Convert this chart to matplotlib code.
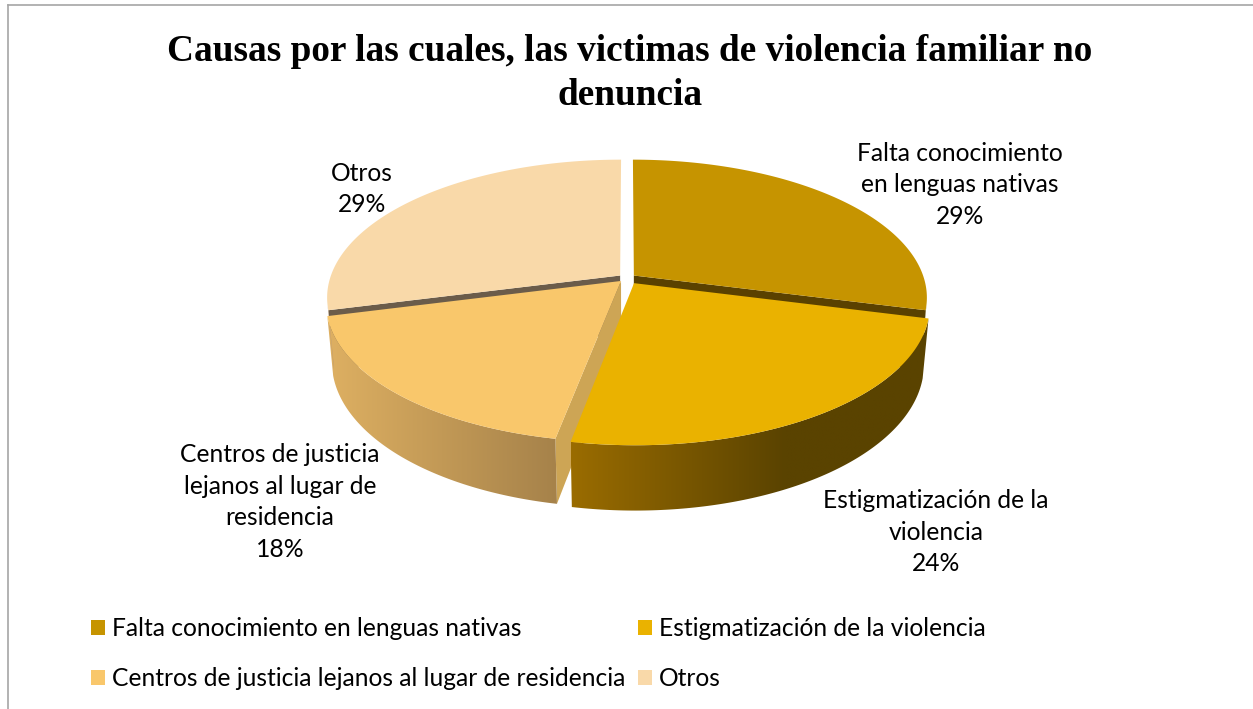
import numpy as np
import matplotlib
matplotlib.use('Agg')
import matplotlib.pyplot as plt
from matplotlib.patches import Polygon, Patch
from matplotlib.lines import Line2D
from matplotlib.colors import to_rgb

# data
categories = ['Falta conocimiento en lenguas nativas',
              'Estigmatización de la violencia',
              'Centros de justicia lejanos al lugar de residencia',
              'Otros']
slice_labels = ['Falta conocimiento\nen lenguas nativas',
                'Estigmatización de la\nviolencia',
                'Centros de justicia\nlejanos al lugar de\nresidencia',
                'Otros']
values = [29, 24, 18, 29]
title = 'Causas por las cuales, las victimas de violencia familiar no\ndenuncia'

# styles
top_colors = ['#C69400', '#EAB200', '#F9C76B', '#F9D9A9']
wall_left = ['#6E5000', '#9A6C00', '#DEB062', '#C8A882']
wall_right = ['#5C4400', '#5A4300', '#A6824A', '#B09070']
side_colors = ['#5A4100', '#8A6400', '#CDA555', '#6B5C4A']
explode = [0.03, 0.045, 0.03, 0.03]
label_pos = [(960, 185), (936, 532), (280, 502), (362, 189)]

# fake 3d camera
CX, CY = 627, 278
F, D = 1633, 5.63
TILT = np.radians(27.7)
C, S = np.cos(TILT), np.sin(TILT)
H = 0.23
cam = np.array([0.0, -D * C, D * S])


def proj(u, v, h):
    depth = D + v * C - h * S
    return CX + F * u / depth, CY - F * (v * S + h * C) / depth


fig = plt.figure(figsize=(12.53, 7.09), dpi=100)
ax = fig.add_axes([0, 0, 1, 1])

fracs = np.array(values) / sum(values)
ends = 90 - 360 * np.cumsum(fracs)
starts = ends + 360 * fracs
lim = np.degrees(np.arcsin(1 / (D * C)))

faces = []
for i in range(len(values)):
    a0, a1 = ends[i], starts[i]
    mid = np.radians((a0 + a1) / 2)
    ex, ey = explode[i] * np.cos(mid), explode[i] * np.sin(mid)

    # radial cut faces, collected and drawn back to front later
    for a, na in ((a0, a0 - 90), (a1, a1 + 90)):
        ar, nr = np.radians(a), np.radians(na)
        p = np.array([ex + 0.5 * np.cos(ar), ey + 0.5 * np.sin(ar), -H / 2])
        n = np.array([np.cos(nr), np.sin(nr), 0])
        if np.dot(n, cam - p) < 0.1:
            continue
        us = [ex, ex + np.cos(ar), ex + np.cos(ar), ex]
        vs = [ey, ey + np.sin(ar), ey + np.sin(ar), ey]
        hs = [0, 0, -H, -H]
        x, y = proj(np.array(us), np.array(vs), np.array(hs))
        faces.append((p[1], np.column_stack([x, y]), side_colors[i]))

    # outer wall
    lo, hi = max(a0, -180 + lim), min(a1, -lim)
    if hi > lo:
        t = np.radians(np.linspace(lo, hi, 120))
        xt, yt = proj(ex + np.cos(t), ey + np.sin(t), 0)
        xb, yb = proj(ex + np.cos(t), ey + np.sin(t), -H)
        pts = np.column_stack([np.r_[xt, xb[::-1]], np.r_[yt, yb[::-1]]])
        poly = Polygon(pts, closed=True, facecolor='none', edgecolor='none',
                       transform=ax.transData)
        ax.add_patch(poly)
        k = np.linspace(0, 1, 256)[:, None]
        if i == 1:
            k = np.clip(k / 0.6, 0, 1)
        grad = (1 - k) * np.array(to_rgb(wall_left[i])) + k * np.array(to_rgb(wall_right[i]))
        im = ax.imshow(grad[None, :, :], extent=(pts[:, 0].min(), pts[:, 0].max(),
                                                 pts[:, 1].max(), pts[:, 1].min()),
                       aspect='auto', interpolation='bilinear', zorder=2)
        im.set_clip_path(poly)

    # top face
    t = np.radians(np.linspace(a0, a1, 200))
    xt, yt = proj(np.r_[ex, ex + np.cos(t)], np.r_[ey, ey + np.sin(t)], 0)
    ax.add_patch(Polygon(np.column_stack([xt, yt]), closed=True,
                         facecolor=top_colors[i], edgecolor='none', zorder=3))

    lx, ly = label_pos[i]
    ax.text(lx, ly, '%s\n%d%%' % (slice_labels[i], round(fracs[i] * 100)),
            ha='center', va='center', fontsize=17.7, family='Lato',
            linespacing=1.47, zorder=5)

for depth, pts, col in sorted(faces, key=lambda f: -f[0]):
    ax.add_patch(Polygon(pts, closed=True, facecolor=col, edgecolor='none', zorder=1))

ax.text(630, 73.5, title, ha='center', va='center', fontsize=26.8,
        fontweight='bold', family='Liberation Serif', linespacing=1.3)

order = [0, 2, 1, 3]
handles = [Patch(facecolor=top_colors[j], edgecolor='none') for j in order]
ax.legend(handles, [categories[j] for j in order], ncol=2, frameon=False,
          loc='upper left', bbox_to_anchor=(91 / 1253, 1 - 617 / 709),
          prop={'family': 'Lato', 'size': 17.7}, handlelength=0.57,
          handleheight=0.6, handletextpad=0.28, columnspacing=0.53,
          labelspacing=1.1, borderpad=0, borderaxespad=0)

ax.set_xlim(0, 1253)
ax.set_ylim(709, 0)
ax.axis('off')

fig.add_artist(Line2D([7.5 / 1253, 7.5 / 1253], [0, 1 - 4.5 / 709],
                      transform=fig.transFigure, color='#A6A6A6', lw=1.2))
fig.add_artist(Line2D([7.5 / 1253, 1], [1 - 4.5 / 709, 1 - 4.5 / 709],
                      transform=fig.transFigure, color='#A6A6A6', lw=1.2))

fig.savefig('out.png', dpi=100)
